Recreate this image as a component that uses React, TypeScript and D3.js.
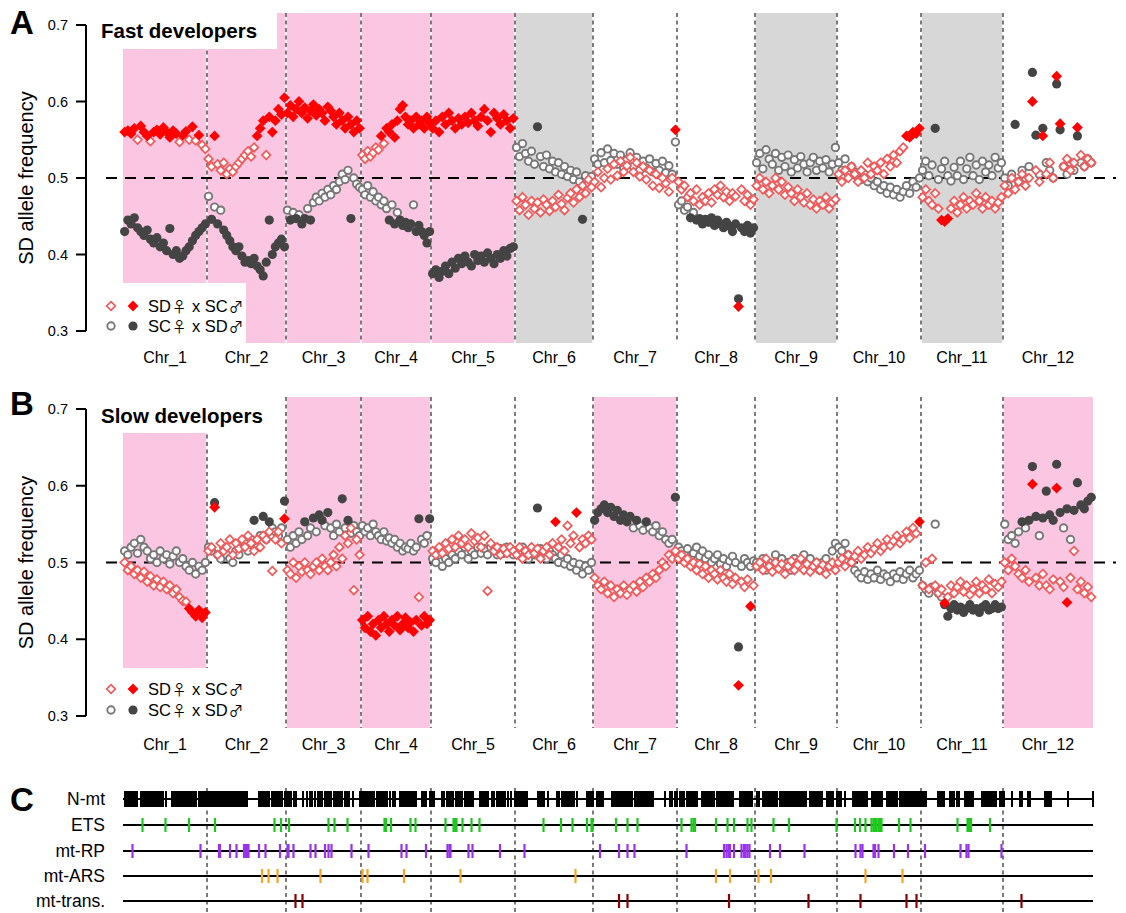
import React from "react";
import * as d3 from "d3";

// ---- genome layout (Mb) ----
const CHR_NAMES = ["Chr_1", "Chr_2", "Chr_3", "Chr_4", "Chr_5", "Chr_6", "Chr_7", "Chr_8", "Chr_9", "Chr_10", "Chr_11", "Chr_12"];
const CHR_LEN_MB = [16.8, 15.8, 15.0, 14.0, 16.8, 15.6, 16.8, 15.6, 16.4, 16.8, 16.4, 18.0];

const Y_TICKS = [0.3, 0.4, 0.5, 0.6, 0.7];
const Y_TICK_LABELS = ["0.3", "0.4", "0.5", "0.6", "0.7"];

// ---- SD allele frequency per sliding window, one array per chromosome ----
// Fast developers, SD♀ x SC♂
const fastSdSc: number[][] = [
  [0.56, 0.562, 0.558, 0.565, 0.55, 0.568, 0.56, 0.555, 0.548, 0.56, 0.563, 0.557, 0.566, 0.56, 0.553, 0.562, 0.558, 0.547, 0.556, 0.561, 0.55, 0.567, 0.549, 0.556, 0.543, 0.538],
  [0.525, 0.515, 0.555, 0.518, 0.51, 0.52, 0.505, 0.512, 0.508, 0.515, 0.52, 0.525, 0.53, 0.535, 0.528, 0.54, 0.555, 0.565, 0.575, 0.53, 0.58, 0.56, 0.575, 0.59, 0.583, 0.605],
  [0.585, 0.595, 0.58, 0.59, 0.6, 0.585, 0.592, 0.578, 0.588, 0.596, 0.582, 0.59, 0.585, 0.575, 0.593, 0.588, 0.58, 0.57, 0.585, 0.575, 0.565, 0.58, 0.57, 0.56, 0.575, 0.565],
  [0.53, 0.525, 0.535, 0.528, 0.533, 0.54, 0.537, 0.555, 0.545, 0.565, 0.56, 0.57, 0.553, 0.575, 0.59, 0.595, 0.58, 0.57, 0.575, 0.565, 0.58, 0.57, 0.575, 0.565, 0.58, 0.572],
  [0.565, 0.575, 0.56, 0.58, 0.57, 0.585, 0.575, 0.565, 0.578, 0.57, 0.58, 0.572, 0.585, 0.575, 0.568, 0.58, 0.59, 0.575, 0.56, 0.585, 0.578, 0.57, 0.583, 0.575, 0.565, 0.578],
  [0.47, 0.458, 0.475, 0.465, 0.452, 0.47, 0.46, 0.468, 0.455, 0.472, 0.465, 0.457, 0.47, 0.462, 0.478, 0.466, 0.458, 0.474, 0.48, 0.468, 0.485, 0.475, 0.49, 0.48, 0.498, 0.488],
  [0.495, 0.508, 0.488, 0.5, 0.512, 0.498, 0.518, 0.503, 0.522, 0.508, 0.516, 0.527, 0.508, 0.52, 0.502, 0.515, 0.498, 0.51, 0.49, 0.505, 0.487, 0.5, 0.493, 0.482, 0.5, 0.563],
  [0.495, 0.485, 0.49, 0.475, 0.48, 0.47, 0.485, 0.465, 0.475, 0.47, 0.48, 0.468, 0.485, 0.478, 0.49, 0.475, 0.482, 0.47, 0.48, 0.476, 0.332, 0.485, 0.47, 0.478, 0.465, 0.472],
  [0.49, 0.5, 0.485, 0.495, 0.48, 0.49, 0.5, 0.485, 0.495, 0.478, 0.488, 0.48, 0.47, 0.485, 0.475, 0.468, 0.48, 0.465, 0.472, 0.46, 0.47, 0.465, 0.475, 0.46, 0.468, 0.472],
  [0.505, 0.495, 0.51, 0.5, 0.515, 0.505, 0.495, 0.51, 0.5, 0.52, 0.505, 0.515, 0.51, 0.52, 0.505, 0.525, 0.515, 0.53, 0.52, 0.535, 0.54, 0.555, 0.553, 0.56, 0.558, 0.565],
  [0.475, 0.485, 0.47, 0.465, 0.48, 0.46, 0.445, 0.443, 0.447, 0.46, 0.47, 0.455, 0.465, 0.475, 0.46, 0.47, 0.465, 0.48, 0.47, 0.46, 0.475, 0.465, 0.47, 0.46, 0.468, 0.475],
  [0.49, 0.48, 0.5, 0.485, 0.495, 0.505, 0.49, 0.5, 0.6, 0.51, 0.495, 0.555, 0.505, 0.52, 0.5, 0.633, 0.571, 0.515, 0.525, 0.51, 0.52, 0.566, 0.53, 0.515, 0.525, 0.52],
];

// Fast developers, SC♀ x SD♂
const fastScSd: number[][] = [
  [0.43, 0.445, 0.44, 0.448, 0.435, 0.43, 0.425, 0.432, 0.42, 0.415, 0.422, 0.41, 0.415, 0.405, 0.434, 0.4, 0.405, 0.395, 0.398, 0.405, 0.41, 0.418, 0.425, 0.43, 0.435, 0.44],
  [0.476, 0.446, 0.462, 0.44, 0.458, 0.432, 0.425, 0.418, 0.41, 0.405, 0.41, 0.398, 0.39, 0.392, 0.388, 0.395, 0.385, 0.38, 0.372, 0.39, 0.445, 0.4, 0.41, 0.415, 0.42, 0.41],
  [0.458, 0.445, 0.455, 0.447, 0.452, 0.44, 0.447, 0.46, 0.445, 0.468, 0.475, 0.47, 0.48, 0.475, 0.485, 0.478, 0.49, 0.485, 0.495, 0.505, 0.498, 0.51, 0.447, 0.5, 0.492, 0.488],
  [0.485, 0.478, 0.49, 0.475, 0.482, 0.47, 0.475, 0.465, 0.47, 0.46, 0.445, 0.465, 0.44, 0.455, 0.445, 0.438, 0.442, 0.435, 0.44, 0.465, 0.43, 0.438, 0.43, 0.425, 0.415, 0.43],
  [0.375, 0.38, 0.37, 0.378, 0.385, 0.375, 0.39, 0.382, 0.395, 0.388, 0.398, 0.39, 0.385, 0.4, 0.392, 0.398, 0.39, 0.402, 0.395, 0.388, 0.4, 0.395, 0.405, 0.398, 0.408, 0.41],
  [0.54, 0.528, 0.545, 0.532, 0.522, 0.535, 0.518, 0.567, 0.528, 0.515, 0.53, 0.512, 0.522, 0.508, 0.52, 0.505, 0.515, 0.502, 0.51, 0.498, 0.508, 0.495, 0.446, 0.503, 0.493, 0.502],
  [0.525, 0.518, 0.533, 0.52, 0.538, 0.523, 0.532, 0.518, 0.53, 0.512, 0.524, 0.533, 0.515, 0.527, 0.51, 0.522, 0.513, 0.525, 0.508, 0.519, 0.51, 0.522, 0.507, 0.516, 0.505, 0.547],
  [0.465, 0.47, 0.458, 0.462, 0.448, 0.455, 0.445, 0.447, 0.44, 0.446, 0.442, 0.448, 0.438, 0.445, 0.44, 0.435, 0.442, 0.437, 0.43, 0.44, 0.342, 0.435, 0.43, 0.438, 0.428, 0.435],
  [0.52, 0.532, 0.512, 0.537, 0.525, 0.518, 0.532, 0.51, 0.527, 0.515, 0.53, 0.508, 0.524, 0.513, 0.528, 0.518, 0.508, 0.52, 0.527, 0.51, 0.522, 0.513, 0.524, 0.508, 0.518, 0.54],
  [0.52, 0.51, 0.525, 0.505, 0.515, 0.508, 0.5, 0.498, 0.505, 0.495, 0.5, 0.49, 0.495, 0.485, 0.49, 0.48, 0.488, 0.478, 0.485, 0.475, 0.482, 0.49, 0.48, 0.495, 0.488, 0.5],
  [0.51, 0.522, 0.503, 0.517, 0.565, 0.498, 0.512, 0.522, 0.503, 0.496, 0.514, 0.503, 0.522, 0.498, 0.512, 0.527, 0.503, 0.517, 0.498, 0.522, 0.508, 0.517, 0.503, 0.527, 0.513, 0.52],
  [0.5, 0.49, 0.505, 0.57, 0.495, 0.51, 0.5, 0.515, 0.638, 0.556, 0.505, 0.565, 0.52, 0.51, 0.5, 0.623, 0.563, 0.515, 0.505, 0.52, 0.51, 0.555, 0.52, 0.515, 0.525, 0.52],
];

// Slow developers, SD♀ x SC♂
const slowSdSc: number[][] = [
  [0.5, 0.49, 0.495, 0.485, 0.49, 0.48, 0.488, 0.475, 0.482, 0.47, 0.478, 0.468, 0.475, 0.465, 0.47, 0.46, 0.465, 0.455, 0.45, 0.449, 0.44, 0.435, 0.43, 0.438, 0.428, 0.435],
  [0.515, 0.52, 0.572, 0.51, 0.525, 0.515, 0.52, 0.53, 0.51, 0.525, 0.518, 0.53, 0.52, 0.535, 0.525, 0.515, 0.53, 0.52, 0.535, 0.53, 0.54, 0.489, 0.53, 0.54, 0.525, 0.557],
  [0.49, 0.485, 0.5, 0.48, 0.495, 0.488, 0.5, 0.49, 0.485, 0.495, 0.5, 0.49, 0.505, 0.495, 0.49, 0.5, 0.51, 0.495, 0.52, 0.505, 0.535, 0.525, 0.545, 0.464, 0.53, 0.51],
  [0.425, 0.415, 0.43, 0.41, 0.42, 0.405, 0.425, 0.415, 0.43, 0.42, 0.41, 0.425, 0.418, 0.43, 0.412, 0.42, 0.428, 0.415, 0.422, 0.41, 0.425, 0.455, 0.418, 0.43, 0.42, 0.425],
  [0.515, 0.51, 0.52, 0.512, 0.525, 0.518, 0.53, 0.52, 0.535, 0.525, 0.53, 0.52, 0.538, 0.528, 0.532, 0.52, 0.535, 0.463, 0.525, 0.515, 0.52, 0.51, 0.518, 0.512, 0.52, 0.515],
  [0.51, 0.52, 0.505, 0.515, 0.51, 0.52, 0.512, 0.518, 0.505, 0.515, 0.52, 0.51, 0.525, 0.553, 0.52, 0.53, 0.515, 0.548, 0.525, 0.535, 0.565, 0.52, 0.53, 0.525, 0.535, 0.53],
  [0.48, 0.47, 0.465, 0.475, 0.46, 0.47, 0.455, 0.465, 0.46, 0.47, 0.458, 0.465, 0.47, 0.462, 0.475, 0.468, 0.48, 0.475, 0.485, 0.48, 0.49, 0.5, 0.495, 0.51, 0.505, 0.515],
  [0.505, 0.51, 0.5, 0.505, 0.495, 0.5, 0.49, 0.498, 0.485, 0.495, 0.48, 0.49, 0.485, 0.478, 0.49, 0.48, 0.475, 0.485, 0.472, 0.48, 0.34, 0.475, 0.468, 0.478, 0.443, 0.47],
  [0.495, 0.5, 0.49, 0.505, 0.495, 0.488, 0.5, 0.492, 0.498, 0.485, 0.495, 0.502, 0.49, 0.497, 0.505, 0.49, 0.498, 0.488, 0.495, 0.5, 0.49, 0.497, 0.485, 0.495, 0.5, 0.49],
  [0.5, 0.505, 0.495, 0.51, 0.5, 0.508, 0.515, 0.505, 0.51, 0.52, 0.512, 0.518, 0.525, 0.515, 0.52, 0.53, 0.522, 0.528, 0.535, 0.525, 0.53, 0.54, 0.532, 0.545, 0.538, 0.553],
  [0.47, 0.5, 0.465, 0.505, 0.47, 0.46, 0.465, 0.447, 0.455, 0.47, 0.46, 0.468, 0.475, 0.462, 0.47, 0.458, 0.465, 0.475, 0.46, 0.47, 0.465, 0.478, 0.46, 0.472, 0.468, 0.475],
  [0.5, 0.49, 0.505, 0.495, 0.485, 0.48, 0.49, 0.475, 0.602, 0.48, 0.47, 0.485, 0.47, 0.465, 0.478, 0.597, 0.475, 0.468, 0.448, 0.48, 0.515, 0.465, 0.475, 0.46, 0.468, 0.455],
];

// Slow developers, SC♀ x SD♂
const slowScSd: number[][] = [
  [0.515, 0.51, 0.52, 0.525, 0.512, 0.53, 0.52, 0.515, 0.505, 0.51, 0.5, 0.515, 0.505, 0.51, 0.498, 0.508, 0.515, 0.5, 0.505, 0.495, 0.49, 0.5, 0.485, 0.495, 0.49, 0.5],
  [0.52, 0.515, 0.578, 0.51, 0.505, 0.52, 0.51, 0.505, 0.5, 0.515, 0.51, 0.52, 0.525, 0.515, 0.53, 0.555, 0.52, 0.535, 0.56, 0.53, 0.553, 0.545, 0.54, 0.535, 0.545, 0.58],
  [0.53, 0.52, 0.535, 0.525, 0.54, 0.53, 0.553, 0.535, 0.545, 0.558, 0.54, 0.562, 0.555, 0.548, 0.565, 0.545, 0.535, 0.55, 0.54, 0.583, 0.545, 0.555, 0.538, 0.548, 0.54, 0.535],
  [0.548, 0.54, 0.545, 0.535, 0.55, 0.54, 0.535, 0.53, 0.54, 0.528, 0.532, 0.525, 0.53, 0.52, 0.525, 0.515, 0.52, 0.518, 0.525, 0.515, 0.52, 0.557, 0.53, 0.525, 0.535, 0.557],
  [0.505, 0.5, 0.51, 0.495, 0.505, 0.5, 0.51, 0.505, 0.515, 0.51, 0.52, 0.505, 0.515, 0.51, 0.52, 0.512, 0.518, 0.51, 0.52, 0.515, 0.51, 0.518, 0.512, 0.52, 0.515, 0.51],
  [0.515, 0.51, 0.52, 0.512, 0.505, 0.515, 0.51, 0.571, 0.518, 0.51, 0.505, 0.515, 0.51, 0.505, 0.5, 0.51, 0.498, 0.505, 0.495, 0.5, 0.49, 0.498, 0.485, 0.495, 0.49, 0.5],
  [0.555, 0.565, 0.57, 0.575, 0.565, 0.572, 0.56, 0.568, 0.555, 0.562, 0.553, 0.56, 0.545, 0.555, 0.548, 0.542, 0.553, 0.545, 0.54, 0.548, 0.535, 0.54, 0.53, 0.525, 0.53, 0.585],
  [0.52, 0.515, 0.51, 0.518, 0.505, 0.512, 0.52, 0.508, 0.515, 0.505, 0.51, 0.5, 0.505, 0.51, 0.498, 0.505, 0.495, 0.502, 0.508, 0.5, 0.39, 0.495, 0.505, 0.5, 0.495, 0.502],
  [0.5, 0.495, 0.505, 0.49, 0.5, 0.495, 0.51, 0.5, 0.505, 0.495, 0.5, 0.49, 0.505, 0.5, 0.495, 0.51, 0.5, 0.505, 0.495, 0.5, 0.49, 0.5, 0.505, 0.495, 0.515, 0.525],
  [0.52, 0.515, 0.525, 0.51, 0.5, 0.49, 0.485, 0.48, 0.488, 0.478, 0.485, 0.48, 0.49, 0.478, 0.485, 0.482, 0.475, 0.485, 0.48, 0.488, 0.478, 0.485, 0.49, 0.48, 0.485, 0.49],
  [0.47, 0.465, 0.46, 0.468, 0.55, 0.46, 0.455, 0.445, 0.43, 0.44, 0.445, 0.438, 0.442, 0.435, 0.44, 0.445, 0.438, 0.44, 0.435, 0.442, 0.445, 0.438, 0.44, 0.445, 0.44, 0.442],
  [0.55, 0.53, 0.535, 0.525, 0.54, 0.553, 0.545, 0.555, 0.625, 0.56, 0.535, 0.558, 0.593, 0.562, 0.555, 0.628, 0.565, 0.545, 0.57, 0.53, 0.568, 0.604, 0.575, 0.57, 0.58, 0.585],
];

// chromosome background classes
const fastShade = ["pink", "pink", "pink", "pink", "pink", "grey", null, null, "grey", null, "grey", null];
const slowShade = ["pink", null, "pink", "pink", null, null, "pink", null, null, null, null, "pink"];

// ---- gene positions along the genome (cumulative Mb) ----
const nmtGenes = [
  0.4, 0.8, 1.2, 1.6, 2.0, 2.4, 2.8, 3.6, 4.0, 4.4, 4.8, 5.2, 5.6, 6.0, 6.4, 6.8, 7.2, 7.6, 8.0, 8.6,
  9.8, 10.2, 10.6, 11.0, 11.4, 11.8, 12.2, 12.6, 13.0, 13.4, 13.8, 14.2, 14.6, 15.2, 15.6, 16.0, 16.4,
  16.8, 17.2, 17.6, 18.0, 18.4, 18.8, 19.2, 19.6, 20.0, 20.4, 20.8, 21.2, 21.6, 22.0, 22.4, 22.8, 23.2,
  23.6, 24.0, 24.4, 24.8, 27.2, 27.6, 28.0, 28.4, 28.8, 29.2, 29.8, 30.2, 30.6, 31.0, 31.4, 31.8, 32.4,
  32.8, 33.2, 33.6, 34.2, 34.6, 36.0, 36.8, 37.4, 37.8, 38.4, 39.0, 39.4, 39.8, 40.4, 40.8, 41.2, 41.6,
  42.2, 42.6, 43.0, 43.4, 43.8, 44.4, 44.8, 45.2, 46.0, 47.4, 47.8, 48.2, 48.6, 49.0, 49.4, 49.8, 50.2,
  50.8, 51.2, 51.6, 52.0, 52.4, 52.8, 53.4, 54.0, 54.4, 55.4, 55.8, 56.2, 56.6, 57.0, 57.4, 57.8, 58.2,
  58.6, 59.8, 60.2, 60.6, 61.4, 61.8, 62.2, 63.8, 64.2, 64.8, 65.2, 65.6, 66.0, 66.6, 67.0, 67.4, 67.8,
  68.4, 68.8, 69.2, 69.6, 70.0, 71.4, 71.8, 72.2, 72.6, 73.0, 73.8, 74.2, 74.8, 75.2, 75.6, 76.0, 76.4,
  77.0, 77.6, 78.4, 78.8, 79.2, 79.6, 80.0, 80.4, 80.8, 83.0, 83.4, 83.8, 84.2, 85.0, 86.8, 87.2, 87.8,
  88.2, 88.6, 89.0, 89.4, 89.8, 90.2, 90.8, 92.8, 93.2, 93.6, 94.0, 94.8, 95.2, 95.6, 96.0, 97.8, 98.2,
  98.6, 99.0, 99.4, 99.8, 100.2, 100.6, 101.0, 101.4, 101.8, 102.4, 102.8, 103.2, 103.6, 104.0, 104.4,
  104.8, 105.2, 105.6, 106.0, 108.4, 109.4, 109.8, 110.4, 110.8, 111.4, 111.8, 112.2, 112.8, 113.2,
  113.6, 114.0, 114.4, 114.8, 115.8, 116.2, 116.6, 117.0, 117.4, 117.8, 118.2, 118.8, 119.2, 119.6,
  120.0, 120.4, 120.8, 121.2, 121.6, 122.0, 123.4, 123.8, 124.2, 124.6, 125.0, 125.4, 125.8, 126.8,
  127.2, 128.0, 128.4, 128.8, 129.2, 129.6, 130.0, 130.4, 130.8, 131.4, 131.8, 132.2, 132.6, 133.0,
  133.4, 133.8, 134.2, 134.6, 135.0, 135.4, 135.8, 136.2, 136.6, 137.4, 137.8, 138.2, 138.6, 139.0,
  139.4, 139.8, 140.8, 141.2, 141.6, 142.0, 142.8, 143.2, 143.6, 144.4, 146.0, 146.4, 146.8, 147.2,
  147.6, 148.0, 148.4, 148.8, 149.8, 150.2, 150.6, 151.0, 151.4, 151.8, 152.8, 153.2, 153.6, 154.0,
  154.4, 154.8, 155.4, 155.8, 156.2, 156.6, 157.0, 157.4, 157.8, 158.2, 158.6, 159.0, 159.4, 159.8,
  160.2, 160.6, 163.0, 163.4, 163.8, 164.2, 165.4, 165.8, 166.2, 166.8, 167.2, 168.4, 168.8, 169.2,
  169.6, 170.0, 171.8, 172.2, 172.6, 173.0, 173.4, 173.8, 174.2, 174.6, 175.4, 175.8, 176.2, 177.8,
  179.4, 179.8, 181.0, 181.4, 184.4, 184.8, 185.2, 185.6, 189.0, 194.0,
];
const etsGenes = [
  3.9, 8.5, 13.2, 18.4, 30.3, 31.6, 33.2, 41.1, 42.3, 44.9, 52.3, 52.6, 53.6, 57.5, 58.5, 64.5, 66.1,
  66.4, 66.7, 67.9, 69.7, 71.3, 84.1, 87.6, 89.9, 92.8, 93.7, 93.9, 98.6, 100.9, 102.9, 111.7, 113.7,
  114.1, 114.4, 118.6, 120.9, 122.2, 124.9, 125.7, 130.1, 133.2, 142.7, 146.4, 147.4, 148.5, 149.7,
  150.1, 150.4, 150.7, 151.1, 151.4, 151.7, 155.2, 157.5, 166.9, 168.9, 169.2, 169.6, 173.4,
];
const mtRpGenes = [
  1.9, 15.5, 19.2, 19.4, 21.4, 22.7, 24.2, 24.5, 24.8, 25.1, 27.2, 28.5, 31.4, 32.9, 33.1, 34.1, 37.5,
  38.5, 40.4, 41.1, 41.7, 45.7, 49.1, 55.7, 56.7, 60.6, 64.9, 65.3, 65.5, 69.1, 69.9, 75.4, 80.3, 95.4,
  99.2, 100.9, 102.3, 112.7, 120.2, 120.7, 121.1, 121.4, 122.2, 123.7, 124.2, 124.5, 124.9, 125.3,
  129.4, 131.4, 136.3, 146.5, 147.5, 147.9, 150.1, 150.4, 151.1, 154.2, 157.0, 160.4, 167.5, 168.7,
  169.1, 175.7,
];
const mtArsGenes = [27.8, 29.1, 30.9, 39.5, 47.9, 48.9, 56.2, 67.5, 90.5, 118.6, 121.4, 127.1, 129.6, 148.5, 155.9];
const mtTransGenes = [34.5, 35.9, 99.2, 100.9, 121.2, 137.1, 147.5, 156.7, 158.7, 179.7];

const TRACK_NAMES = ["N-mt", "ETS", "mt-RP", "mt-ARS", "mt-trans."];
const TRACK_GENES = [nmtGenes, etsGenes, mtRpGenes, mtArsGenes, mtTransGenes];
const TRACK_COLORS = ["#000000", "#1ec81e", "#9932ee", "#f5a623", "#8b0000"];

// cross labels: [mother, father]
const LEGEND_CROSSES: [string, string][] = [["SD", "SC"], ["SC", "SD"]];

// ---- styling ----
const FONT = "'Liberation Sans', Arial, Helvetica, sans-serif";
const SYMBOL_FONT = "'Noto Sans CJK JP', 'DejaVu Sans', sans-serif";
const PINK = "#fbc6e2";
const GREY_SHADE = "#d7d7d7";
const RED = "#ff0000";
const RED_OPEN = "#f05a5a";
const GREY_OPEN = "#777777";
const GREY_FILLED = "#444444";
const SIG_DEV = 0.052; // |freq - 0.5| beyond which a window is drawn as significant

const chrStart = [0, ...Array.from(d3.cumsum(CHR_LEN_MB))].slice(0, CHR_LEN_MB.length);
const genomeLen = d3.sum(CHR_LEN_MB);
const x = d3.scaleLinear().domain([0, genomeLen]).range([123, 1093]);

const isSig = (v: number) => Math.abs(v - 0.5) >= SIG_DEV - 1e-9;

type Win = { pos: number; v: number; sig: boolean };
function toWindows(series: number[][]): Win[] {
  return series.flatMap((vals, c) =>
    vals.map((v, i) => ({ pos: chrStart[c] + ((i + 0.5) / vals.length) * CHR_LEN_MB[c], v, sig: isSig(v) }))
  );
}

const diamond = (cx: number, cy: number, r: number) =>
  `M${cx},${cy - r}L${cx + r},${cy}L${cx},${cy + r}L${cx - r},${cy}Z`;

function CrossLabel({ x0, y0, cross }: { x0: number; y0: number; cross: [string, string] }) {
  return (
    <text x={x0} y={y0} fontSize={16.5} fontFamily={FONT} fill="#000">
      <tspan>{cross[0]}</tspan>
      <tspan dx={1} fontFamily={SYMBOL_FONT} fontSize={14.5}>♀</tspan>
      <tspan dx={1}>{" x " + cross[1]}</tspan>
      <tspan dx={1} fontFamily={SYMBOL_FONT} fontSize={14.5}>♂</tspan>
    </text>
  );
}

type PanelCfg = {
  letter: string;
  letterY: number;
  title: string;
  titleY: number;
  titleBox: [number, number, number, number];
  legendBox: [number, number, number, number];
  legendRows: [number, number];
  yRange: [number, number];
  shadeRange: [number, number];
  chrLabelY: number;
  shade: (string | null)[];
  mat: number[][];
  pat: number[][];
};

function Panel({ cfg }: { cfg: PanelCfg }) {
  const y = d3.scaleLinear().domain([0.3, 0.7]).range(cfg.yRange);
  const mat = toWindows(cfg.mat);
  const pat = toWindows(cfg.pat);
  const [s0, s1] = cfg.shadeRange;
  const yMid = (y(0.3) + y(0.7)) / 2;
  const bounds = chrStart.slice(1);

  return (
    <g>
      {cfg.shade.map((s, c) =>
        s ? (
          <rect key={"sh" + c} x={x(chrStart[c])} y={s0} width={x(chrStart[c] + CHR_LEN_MB[c]) - x(chrStart[c])}
            height={s1 - s0} fill={s === "pink" ? PINK : GREY_SHADE} />
        ) : null
      )}
      {bounds.map((b, i) => (
        <g key={"bd" + i}>
          <line x1={x(b)} x2={x(b)} y1={s0} y2={s1} stroke="#fff" strokeWidth={1.5} />
          <line x1={x(b)} x2={x(b)} y1={s0} y2={s1} stroke="#7a7a7a" strokeWidth={2} strokeDasharray="4 3.5" />
        </g>
      ))}
      <line x1={106} x2={1116} y1={y(0.5)} y2={y(0.5)} stroke="#000" strokeWidth={2} strokeDasharray="11 8" />

      {/* y axis */}
      <line x1={86} x2={86} y1={y(0.3)} y2={y(0.7)} stroke="#000" strokeWidth={2} />
      {Y_TICKS.map((t, i) => (
        <g key={"yt" + i}>
          <line x1={76} x2={86} y1={y(t)} y2={y(t)} stroke="#000" strokeWidth={2} />
          <text x={68} y={y(t) + 5} textAnchor="end" fontSize={14.5} fontFamily={FONT} fill="#000">{Y_TICK_LABELS[i]}</text>
        </g>
      ))}
      <text transform={`translate(33,${yMid}) rotate(-90)`} textAnchor="middle" fontSize={20} fontFamily={FONT} fill="#000">
        SD allele frequency
      </text>

      {/* windows: open first, significant on top */}
      {pat.filter((d) => !d.sig).map((d, i) => (
        <circle key={"po" + i} cx={x(d.pos)} cy={y(d.v)} r={3.7} fill="#fff" stroke={GREY_OPEN} strokeWidth={1.9} />
      ))}
      {mat.filter((d) => !d.sig).map((d, i) => (
        <path key={"mo" + i} d={diamond(x(d.pos), y(d.v), 4.3)} fill="#fff" stroke={RED_OPEN} strokeWidth={1.7} />
      ))}
      {pat.filter((d) => d.sig).map((d, i) => (
        <circle key={"pf" + i} cx={x(d.pos)} cy={y(d.v)} r={4.6} fill={GREY_FILLED} />
      ))}
      {mat.filter((d) => d.sig).map((d, i) => (
        <path key={"mf" + i} d={diamond(x(d.pos), y(d.v), 5.4)} fill={RED} />
      ))}

      {/* title */}
      <rect x={cfg.titleBox[0]} y={cfg.titleBox[1]} width={cfg.titleBox[2]} height={cfg.titleBox[3]} fill="#fff" />
      <text x={101} y={cfg.titleY} fontSize={20.5} fontWeight="bold" fontFamily={FONT} fill="#000">{cfg.title}</text>

      {/* legend */}
      <rect x={cfg.legendBox[0]} y={cfg.legendBox[1]} width={cfg.legendBox[2]} height={cfg.legendBox[3]} fill="#fff" />
      <path d={diamond(111, cfg.legendRows[0], 4.3)} fill="#fff" stroke={RED_OPEN} strokeWidth={1.7} />
      <path d={diamond(133, cfg.legendRows[0], 5.4)} fill={RED} />
      <CrossLabel x0={148} y0={cfg.legendRows[0] + 6} cross={LEGEND_CROSSES[0]} />
      <circle cx={111} cy={cfg.legendRows[1]} r={3.7} fill="#fff" stroke={GREY_OPEN} strokeWidth={1.9} />
      <circle cx={133} cy={cfg.legendRows[1]} r={4.6} fill={GREY_FILLED} />
      <CrossLabel x0={148} y0={cfg.legendRows[1] + 6} cross={LEGEND_CROSSES[1]} />

      {/* chromosome names */}
      {CHR_NAMES.map((n, c) => (
        <text key={"cn" + c} x={x(chrStart[c] + CHR_LEN_MB[c] / 2)} y={cfg.chrLabelY} textAnchor="middle"
          fontSize={16} fontFamily={FONT} fill="#000">{n}</text>
      ))}

      <text x={10} y={cfg.letterY} fontSize={33} fontWeight="bold" fontFamily={FONT} fill="#000">{cfg.letter}</text>
    </g>
  );
}

function GeneTracks() {
  const trackY = [799, 825, 851, 876, 901];
  const bounds = chrStart.slice(1);
  return (
    <g>
      {bounds.map((b, i) => (
        <line key={"cb" + i} x1={x(b)} x2={x(b)} y1={788} y2={912} stroke="#7a7a7a" strokeWidth={2} strokeDasharray="4 3.5" />
      ))}
      {TRACK_NAMES.map((name, k) => (
        <g key={"tr" + k}>
          <line x1={x(0)} x2={x(genomeLen)} y1={trackY[k]} y2={trackY[k]} stroke="#000" strokeWidth={2} />
          {TRACK_GENES[k].map((p, j) => (
            <line key={j} x1={x(p)} x2={x(p)} y1={trackY[k] - (k === 0 ? 8 : 7)} y2={trackY[k] + (k === 0 ? 8 : 7)}
              stroke={TRACK_COLORS[k]} strokeWidth={k === 0 ? 1.4 : 2.2}
              shapeRendering={k === 0 ? "crispEdges" : "auto"} />
          ))}
          <text x={105} y={trackY[k] + 6} textAnchor="end" fontSize={17.5} fontFamily={FONT} fill="#000">{name}</text>
        </g>
      ))}
      <text x={10} y={811} fontSize={33} fontWeight="bold" fontFamily={FONT} fill="#000">C</text>
    </g>
  );
}

const fastCfg: PanelCfg = {
  letter: "A", letterY: 34, title: "Fast developers", titleY: 38,
  titleBox: [96, 13, 181, 36], legendBox: [100, 283, 146, 62], legendRows: [306, 326],
  yRange: [331, 25], shadeRange: [13, 343], chrLabelY: 363,
  shade: fastShade, mat: fastSdSc, pat: fastScSd,
};
const slowCfg: PanelCfg = {
  letter: "B", letterY: 415, title: "Slow developers", titleY: 423,
  titleBox: [94, 397, 190, 36], legendBox: [100, 668, 146, 62], legendRows: [689, 710],
  yRange: [716, 409], shadeRange: [397, 728], chrLabelY: 750,
  shade: slowShade, mat: slowSdSc, pat: slowScSd,
};

export default function App() {
  return (
    <svg width={1126} height={913} viewBox="0 0 1126 913"
      style={{ position: "absolute", left: 0, top: 0, background: "#fff" }}>
      <rect x={0} y={0} width={1126} height={913} fill="#fff" />
      <Panel cfg={fastCfg} />
      <Panel cfg={slowCfg} />
      <GeneTracks />
    </svg>
  );
}
